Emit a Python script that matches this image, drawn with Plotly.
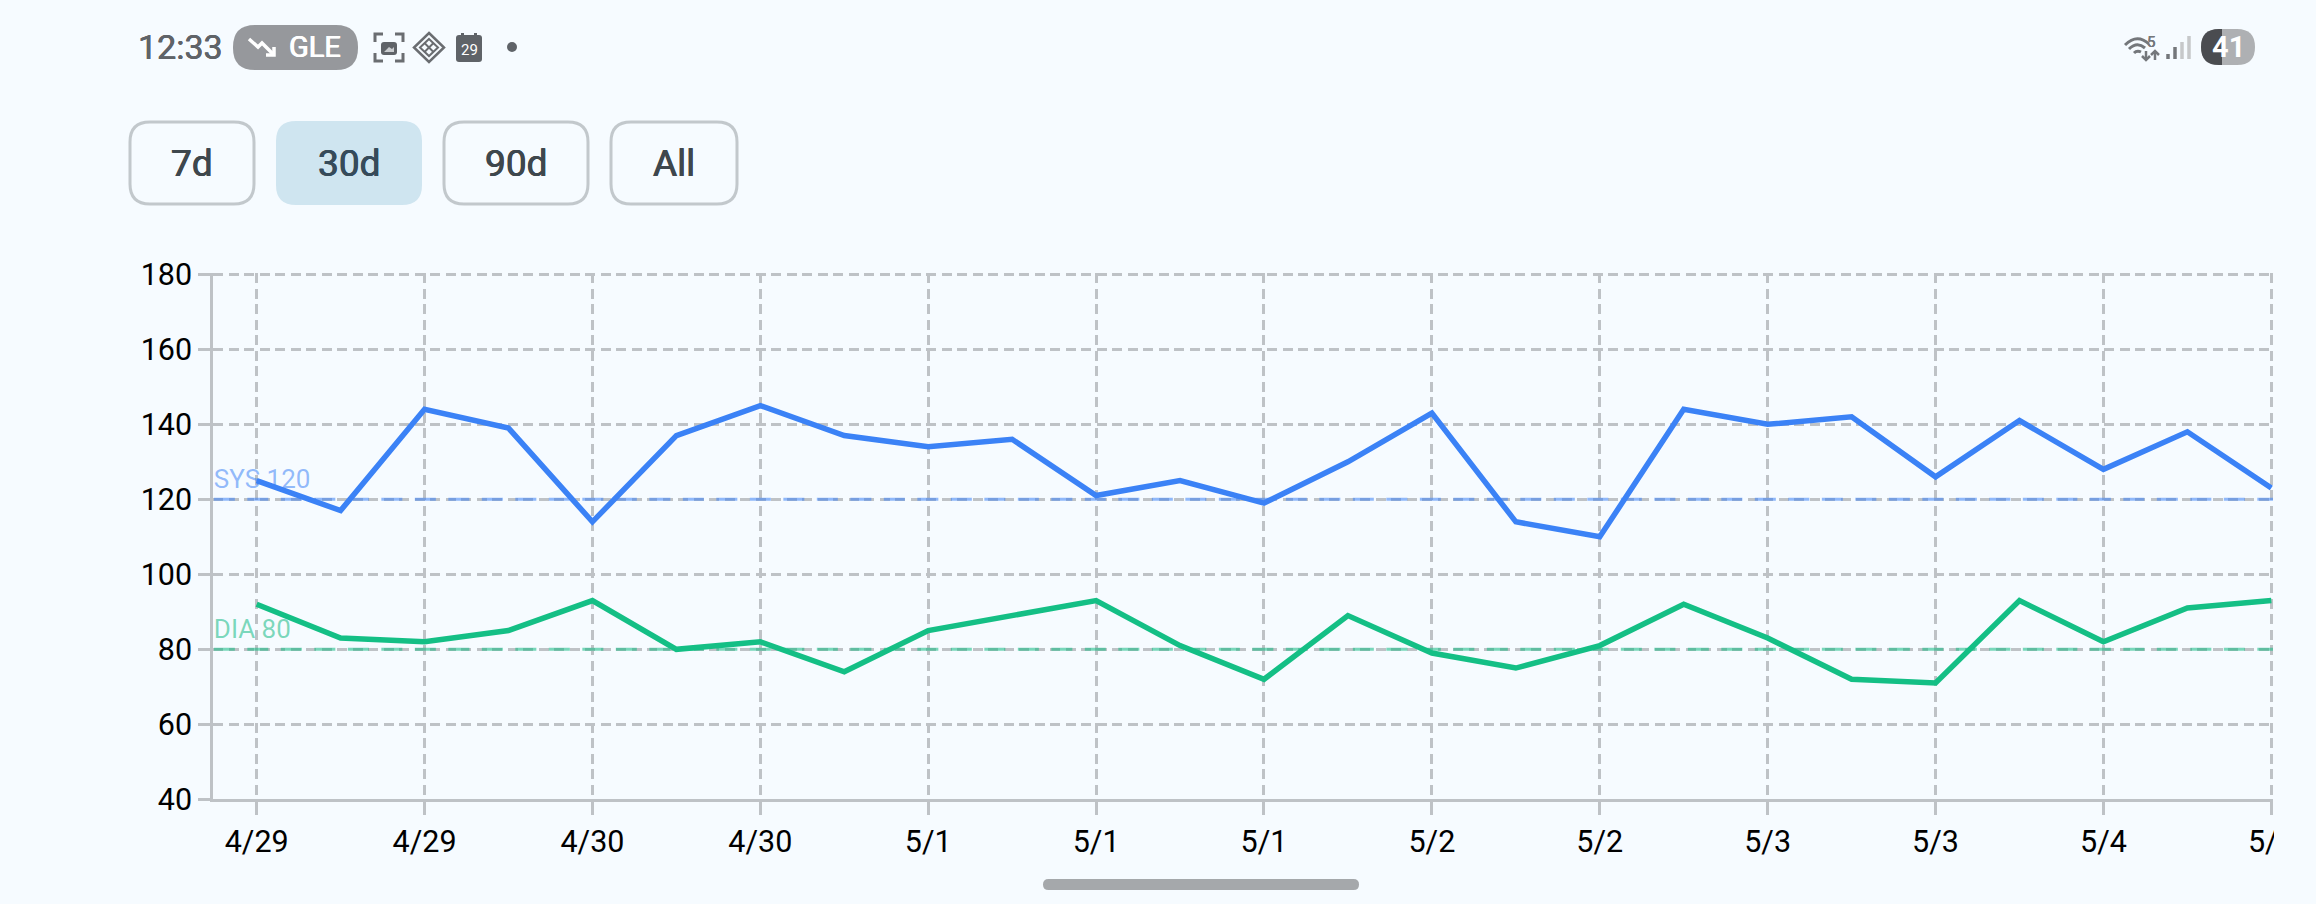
import plotly.graph_objects as go

W, H = 2316, 904
BG = "#F6FBFF"

# Blood pressure readings, oldest first
reading_index = list(range(25))
systolic = [125, 117, 144, 139, 114, 137, 145, 137, 134, 136, 121, 125, 119,
            130, 143, 114, 110, 144, 140, 142, 126, 141, 128, 138, 123]
diastolic = [92, 83, 82, 85, 93, 80, 82, 74, 85, 89, 93, 81, 72,
             89, 79, 75, 81, 92, 83, 72, 71, 93, 82, 91, 93]

# Every second reading carries a date label
date_tick_index = list(range(0, 25, 2))
date_labels = ["4/29", "4/29", "4/30", "4/30", "5/1", "5/1", "5/1",
               "5/2", "5/2", "5/3", "5/3", "5/4", "5/4"]
value_ticks = [40, 60, 80, 100, 120, 140, 160, 180]

sys_target, dia_target = 120, 80
range_buttons = ["7d", "30d", "90d", "All"]
selected_range = "30d"

PLOT_L, PLOT_R, PLOT_T, PLOT_B = 213, 2273, 273.2, 799.3
GRID = "#BEC2C6"
BLUE = "#3B82F6"
GREEN = "#14BF85"
TARGET_LABEL_LIFT = 1.2  # value units between a target line and the bottom of its label


def px(x):
    return x / W


def py(y):
    return 1 - y / H


def rounded(x0, y0, x1, y1, r):
    return (f"M{px(x0 + r)},{py(y0)} L{px(x1 - r)},{py(y0)} "
            f"Q{px(x1)},{py(y0)} {px(x1)},{py(y0 + r)} L{px(x1)},{py(y1 - r)} "
            f"Q{px(x1)},{py(y1)} {px(x1 - r)},{py(y1)} L{px(x0 + r)},{py(y1)} "
            f"Q{px(x0)},{py(y1)} {px(x0)},{py(y1 - r)} L{px(x0)},{py(y0 + r)} "
            f"Q{px(x0)},{py(y0)} {px(x0 + r)},{py(y0)} Z")


def polyline(points, close=False):
    d = "M" + " L".join(f"{px(x)},{py(y)}" for x, y in points)
    return d + (" Z" if close else "")


shapes, notes = [], []


def fill_path(path, color):
    shapes.append(dict(type="path", xref="paper", yref="paper", path=path,
                       fillcolor=color, line=dict(width=0), layer="above"))


def stroke_path(path, color, width):
    shapes.append(dict(type="path", xref="paper", yref="paper", path=path,
                       line=dict(color=color, width=width), layer="above"))


def label(x, y, text, size, color, anchor="center", weight=400, embolden=0.0):
    # embolden thickens regular Roboto towards a medium weight
    shadow = f"{embolden}px 0 0 {color}, -{embolden}px 0 0 {color}" if embolden else "none"
    notes.append(dict(xref="paper", yref="paper", x=px(x), y=py(y), text=text,
                      showarrow=False, xanchor=anchor, yanchor="middle",
                      font=dict(family="Roboto", size=size, color=color, weight=weight,
                                shadow=shadow)))


fig = go.Figure()

# Target labels sit under the series lines
fig.add_trace(go.Scatter(x=[-0.51], y=[sys_target + TARGET_LABEL_LIFT], mode="text",
                         text=[f"SYS {sys_target}"], textposition="top right", cliponaxis=False,
                         textfont=dict(family="Roboto", size=26, color="rgba(59,130,246,0.55)")))
fig.add_trace(go.Scatter(x=[-0.51], y=[dia_target + TARGET_LABEL_LIFT], mode="text",
                         text=[f"DIA {dia_target}"], textposition="top right", cliponaxis=False,
                         textfont=dict(family="Roboto", size=26, color="rgba(16,185,129,0.55)")))

# Dashed target lines
for target, color in ((sys_target, "rgba(59,130,246,0.55)"), (dia_target, "rgba(16,185,129,0.55)")):
    fig.add_trace(go.Scatter(x=[-0.51, 25], y=[target, target], mode="lines",
                             line=dict(color=color, width=3, dash="21px,12.5px")))

fig.add_trace(go.Scatter(x=reading_index, y=systolic, mode="lines",
                         line=dict(color=BLUE, width=5.5)))
fig.add_trace(go.Scatter(x=reading_index, y=diastolic, mode="lines",
                         line=dict(color=GREEN, width=5.5)))

# Hides the part of the last date label that runs past the chart edge
shapes.append(dict(type="rect", xref="paper", yref="paper", x0=px(PLOT_R + 1), x1=1,
                   y0=py(H), y1=py(270), fillcolor=BG, line=dict(width=0), layer="above"))

# Range selector
button_boxes = [(130, 254), (276, 422), (444, 588), (611, 737)]
for name, (x0, x1) in zip(range_buttons, button_boxes):
    active = name == selected_range
    if active:
        fill_path(rounded(x0, 121, x1, 205, 20), "#CFE5F0")
    else:
        stroke_path(rounded(x0, 122, x1, 204, 20), "#C2C8CC", 3)
    label((x0 + x1) / 2, 163, name, 37, "#364B5A" if active else "#3E474D", embolden=0.4)

# Status bar, left side
STATUS = "#5F6368"
label(136, 47, "12:33", 34, STATUS, anchor="left", embolden=0.3)
fill_path(rounded(233, 25, 358, 70, 22), "#96989C")
label(287, 47, "GLE", 29, "#FFFFFF", anchor="left", embolden=0.4)
stroke_path(polyline([(249, 39), (258, 47), (262, 43), (274, 55)]), "#FFFFFF", 3.5)
stroke_path(polyline([(266, 55), (274, 55), (274, 47)]), "#FFFFFF", 3.5)

# Screenshot frame icon
FRAME = "#6A6D71"
for a, b, c in (((375, 42), (375, 34), (383, 34)), ((395, 34), (403, 34), (403, 42)),
                ((375, 53), (375, 61), (383, 61)), ((395, 61), (403, 61), (403, 53))):
    stroke_path(polyline([a, b, c]), FRAME, 3)
fill_path(rounded(381, 42, 397, 55, 3), STATUS)
fill_path(polyline([(384, 52), (389, 47), (392, 49), (394, 47), (394, 52)], close=True), "#C9CCCF")

# Diamond app icon
stroke_path(polyline([(429, 33), (444, 47.5), (429, 62), (414, 47.5)], close=True), FRAME, 2.5)
stroke_path(polyline([(429, 39), (438, 47.5), (429, 56), (420, 47.5)], close=True), FRAME, 2)
stroke_path(polyline([(424.5, 43), (433.5, 52)]), FRAME, 2)
stroke_path(polyline([(433.5, 43), (424.5, 52)]), FRAME, 2)

# Calendar icon
fill_path(rounded(456, 35, 482, 62, 3), STATUS)
fill_path(polyline([(461, 33), (464, 33), (464, 36), (461, 36)], close=True), STATUS)
fill_path(polyline([(474, 33), (477, 33), (477, 36), (474, 36)], close=True), STATUS)
label(469, 50, "29", 15, "#FFFFFF")
shapes.append(dict(type="circle", xref="paper", yref="paper", x0=px(507), x1=px(517),
                   y0=py(52), y1=py(42), fillcolor=STATUS, line=dict(width=0), layer="above"))

# Status bar, right side: wifi
WIFI = "#74777B"
stroke_path(f"M{px(2125)},{py(45)} Q{px(2137)},{py(33)} {px(2149)},{py(44)}", WIFI, 3)
stroke_path(f"M{px(2129)},{py(49)} Q{px(2137)},{py(41)} {px(2145)},{py(48)}", WIFI, 3)
stroke_path(f"M{px(2134)},{py(53)} Q{px(2137)},{py(50)} {px(2141)},{py(52)}", WIFI, 3)
label(2151, 42, "5", 15, WIFI, embolden=0.2)
stroke_path(polyline([(2146, 51), (2146, 60)]), WIFI, 2.5)
stroke_path(polyline([(2142, 56), (2146, 60), (2150, 56)]), WIFI, 2.5)
stroke_path(polyline([(2155, 60), (2155, 51)]), WIFI, 2.5)
stroke_path(polyline([(2151, 55), (2155, 51), (2159, 55)]), WIFI, 2.5)

# Signal bars
for x, top, color in ((2168, 54, "#74777B"), (2175, 47, "#74777B"),
                      (2182, 42, "#C6C8CA"), (2189, 36, "#C6C8CA")):
    stroke_path(polyline([(x, 59), (x, top)]), color, 3.5)

# Battery
fill_path(rounded(2201, 29, 2255, 65, 18), "#AEB0B3")
fill_path(f"M{px(2222)},{py(29)} L{px(2219)},{py(29)} Q{px(2201)},{py(29)} {px(2201)},{py(47)} "
          f"Q{px(2201)},{py(65)} {px(2219)},{py(65)} L{px(2222)},{py(65)} Z", "#4A4C50")
label(2228, 47, "41", 29, "#FFFFFF", weight=700)

# Gesture bar
fill_path(rounded(1043, 879, 1359, 890, 5.5), "#A5A8AB")

fig.update_layout(
    width=W, height=H, margin=dict(l=0, r=0, t=0, b=0),
    paper_bgcolor=BG, plot_bgcolor=BG, showlegend=False,
    shapes=shapes, annotations=notes,
    xaxis=dict(domain=[PLOT_L / W, PLOT_R / W], range=[-0.52, 24.02], automargin=False,
               tickmode="array", tickvals=date_tick_index, ticktext=date_labels,
               ticks="outside", ticklen=13, tickwidth=2.5, tickcolor=GRID,
               showline=True, linecolor=GRID, linewidth=2.5,
               showgrid=True, gridcolor=GRID, gridwidth=2.5, griddash="10px,5.5px",
               zeroline=False, tickfont=dict(family="Roboto", size=30.5, color="#000000")),
    yaxis=dict(domain=[1 - PLOT_B / H, 1 - PLOT_T / H], range=[40, 180.3], automargin=False,
               tickmode="array", tickvals=value_ticks,
               ticks="outside", ticklen=12, tickwidth=2.5, tickcolor=GRID,
               showline=True, linecolor=GRID, linewidth=2.5,
               showgrid=True, gridcolor=GRID, gridwidth=2.5, griddash="10px,5.5px",
               zeroline=False, tickfont=dict(family="Roboto", size=30.5, color="#000000")),
)

fig.write_html("out.html", config=dict(displayModeBar=False))
